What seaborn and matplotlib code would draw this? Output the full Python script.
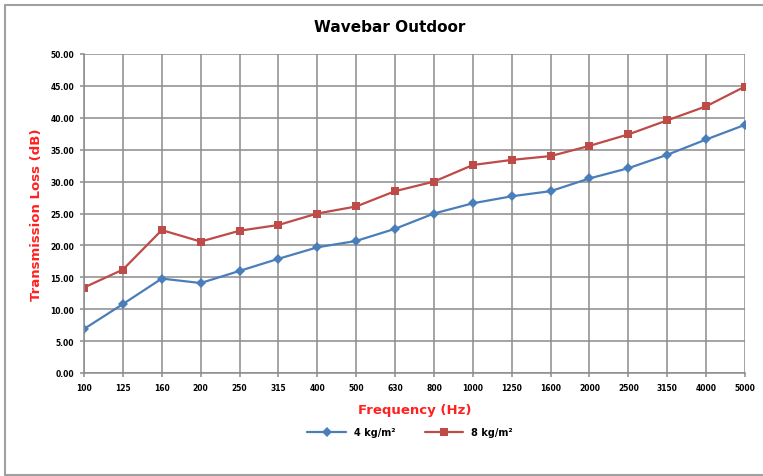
import numpy as np
import pandas as pd
import seaborn as sns
import matplotlib.pyplot as plt
from matplotlib.lines import Line2D

# frequency bands (Hz) and transmission loss (dB) per surface mass
freqs = ['100', '125', '160', '200', '250', '315', '400', '500', '630', '800',
         '1000', '1250', '1600', '2000', '2500', '3150', '4000', '5000']
tl_4kg = [6.9, 10.8, 14.8, 14.1, 16.0, 17.9, 19.7, 20.7, 22.6, 25.0,
          26.6, 27.7, 28.5, 30.5, 32.1, 34.2, 36.6, 38.9]
tl_8kg = [13.4, 16.2, 22.4, 20.6, 22.3, 23.2, 25.0, 26.1, 28.5, 30.0,
          32.6, 33.4, 34.0, 35.6, 37.4, 39.6, 41.8, 44.9]
series = ['4 kg/m²', '8 kg/m²']
colors = ['#4a7ebb', '#be4b48']

df = pd.DataFrame({'Frequency': freqs * 2,
                   'TL': tl_4kg + tl_8kg,
                   'Series': [series[0]] * len(freqs) + [series[1]] * len(freqs)})

sns.set_style('white')
plt.rcParams['font.family'] = ['DejaVu Sans']
plt.rcParams['text.color'] = 'black'

fig = plt.figure(figsize=(7.63, 4.77), dpi=100)
ax = fig.add_axes([84 / 763, 1 - 374 / 477, (745 - 84) / 763, (374 - 55) / 477])

sns.lineplot(data=df, x='Frequency', y='TL', hue='Series', style='Series',
             palette=dict(zip(series, colors)), markers={series[0]: 'D', series[1]: 's'},
             dashes=False, markersize=5.5, linewidth=1.6, markeredgewidth=0,
             legend=False, ax=ax, sort=False)

ax.set_xlim(0, len(freqs) - 1)
ax.set_ylim(0, 50)
ax.set_yticks(np.arange(0, 51, 5))
ax.set_yticklabels([f'{v:.2f}' for v in np.arange(0, 51, 5)], fontsize=5.5, fontweight='bold')
ax.set_xticks(range(len(freqs)))
ax.set_xticklabels(freqs, fontsize=5.5, fontweight='bold')
ax.grid(True, color='#8c8c8c', linewidth=1.1)
ax.set_axisbelow(True)
for side in ['top', 'right']:
    ax.spines[side].set_visible(False)
for side in ['left', 'bottom']:
    ax.spines[side].set_color('#8c8c8c')
    ax.spines[side].set_linewidth(1.1)
ax.tick_params(axis='both', length=3, width=1.1, color='#8c8c8c', pad=4, direction='out',
               left=True, bottom=True, labelcolor='black')

ax.set_xlabel('Frequency (Hz)', color='#ff2020', fontsize=9.5, fontweight='bold', labelpad=8)
ax.set_ylabel('Transmission Loss (dB)', color='#ff2020', fontsize=9.5, fontweight='bold', labelpad=5)
fig.text(390 / 763, 1 - 28 / 477, 'Wavebar Outdoor', ha='center', va='center',
         fontsize=11, fontweight='bold', color='black')

handles = [Line2D([], [], color=c, marker=m, markersize=5.5, linewidth=1.6, markeredgewidth=0)
           for c, m in zip(colors, ['D', 's'])]
fig.legend(handles, series, loc='center', bbox_to_anchor=(410 / 763, 1 - 433 / 477),
           ncol=2, frameon=False, prop={'size': 7, 'weight': 'bold'},
           handlelength=4, columnspacing=3)

# chart area border
fig.add_artist(Line2D([5 / 763, 5 / 763], [1 - 6 / 477, 1 - 476 / 477], color='#a0a0a0', lw=1.5))
fig.add_artist(Line2D([5 / 763, 1], [1 - 6 / 477, 1 - 6 / 477], color='#a0a0a0', lw=1.5))
fig.add_artist(Line2D([5 / 763, 1], [1 - 476 / 477, 1 - 476 / 477], color='#a0a0a0', lw=1.5))

fig.savefig('out.png', dpi=100)
